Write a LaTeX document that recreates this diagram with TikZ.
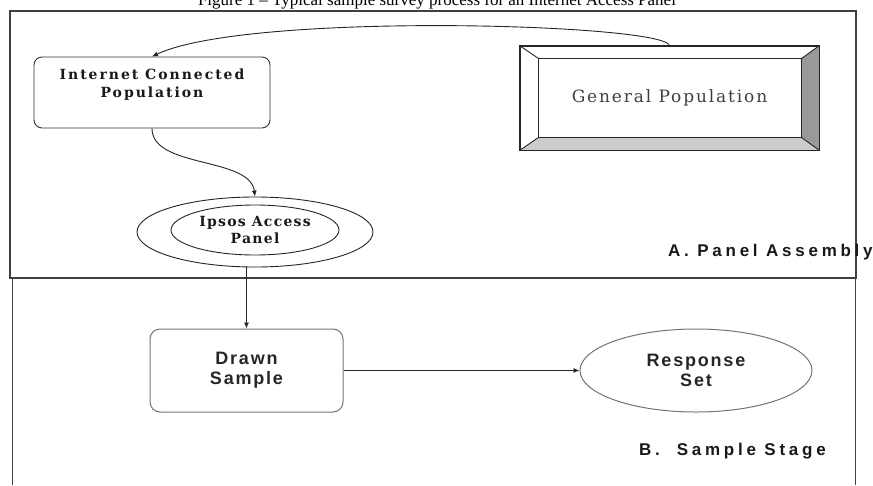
\documentclass[tikz,border=0pt]{standalone}
\usepackage{fontspec}
\setmainfont{Liberation Serif}
\newfontfamily\serifbox{DejaVu Serif}[LetterSpace=14]
\newfontfamily\serifring{DejaVu Serif}[LetterSpace=9]
\newfontfamily\serifgen{DejaVu Serif}[LetterSpace=11]
\newfontfamily\sansbox{Liberation Sans}[LetterSpace=10]
\newfontfamily\sansstage{Liberation Sans}[LetterSpace=22]
\usetikzlibrary{shapes.geometric,arrows.meta,calc}

\begin{document}
\begin{tikzpicture}[x=1pt,y=-1pt,>={Latex[length=6pt,width=5pt]},
    frame/.style={draw=black!75,line width=1.2pt},
    netbox/.style={draw=black!80,line width=0.9pt,rounded corners=8pt,minimum width=236pt,minimum height=71pt,inner sep=0pt,align=center,text=black!90,font=\fontsize{14}{18}\serifbox\bfseries},
    genbox/.style={draw=black!85,line width=0.9pt,minimum width=299pt,minimum height=104pt,inner sep=0pt,text=black!75,font=\fontsize{17}{19}\serifgen},
    panelring/.style={draw=black!85,line width=0.9pt,ellipse,minimum width=236pt,minimum height=70pt,inner sep=0pt},
    panelcore/.style={draw=black!85,line width=0.9pt,ellipse,minimum width=168pt,minimum height=50pt,inner sep=0pt,align=center,text=black!90,font=\fontsize{14}{17}\serifring\bfseries},
    drawbox/.style={draw=black!55,line width=1pt,rounded corners=10pt,minimum width=193pt,minimum height=83pt,inner sep=0pt,align=center,text=black!85,font=\fontsize{18}{20}\sansbox\bfseries},
    respell/.style={draw=black!55,line width=1pt,ellipse,minimum width=232pt,minimum height=83pt,inner sep=0pt,align=center,text=black!85,font=\fontsize{18}{20}\sansbox\bfseries},
    stage/.style={anchor=west,inner sep=0pt,text=black!90,font=\fontsize{17}{18}\sansstage\bfseries},
    link/.style={draw=black!85,line width=0.9pt,->}]
  \useasboundingbox (0,0) rectangle (873,485);
  % title, cut off at the top
  \node[anchor=base,font=\fontsize{17}{20}\selectfont] (title) at (437,5) {Figure 1 -- Typical sample survey process for an Internet Access Panel};
  % frames
  \draw[frame] (10,11) rectangle (856,278);
  \draw[frame] (12.5,485) -- (12.5,278) -- (855.5,278) -- (855.5,485);
  % A. panel assembly
  \node[netbox] (net) at (152,92.5) {Internet Connected\\Population\\~};
  \node[genbox] (gen) at (669.5,98) {General Population};
  \fill[black!40] (gen.north east) -- (gen.south east) -- ++(-18,-13) -- ($(gen.north east)+(-18,13)$) -- cycle;
  \fill[black!20] (gen.south west) -- (gen.south east) -- ++(-18,-13) -- ($(gen.south west)+(19,-13)$) -- cycle;
  \draw[black!85,line width=0.9pt] ($(gen.north west)+(19,13)$) rectangle ($(gen.south east)+(-18,-13)$);
  \draw[black!85,line width=0.9pt] (gen.north west) -- ++(19,13) (gen.north east) -- ++(-18,13)
    (gen.south west) -- ++(19,-13) (gen.south east) -- ++(-18,-13);
  \draw[black!85,line width=0.9pt] (gen.north west) rectangle (gen.south east);
  \node[panelring] (ring) at (255,232) {};
  \node[panelcore] (panel) at (255,230) {Ipsos Access\\Panel};
  \node[stage] (stageA) at (668,252) {A.\ Panel Assembly};
  % B. sample stage
  \node[drawbox] (drawn) at (246.5,370.5) {Drawn\\Sample};
  \node[respell] (resp) at (696,370.5) {Response\\Set};
  \node[stage] (stageB) at (639,451) {B.\ \ Sample Stage};
  % connectors
  \draw[link] (gen.north) .. controls +(-5,-22) and +(95,-45) .. (net.north);
  \draw[link] (net.south) .. controls +(0,40) and +(-5,-40) .. (ring.north);
  \draw[link] (ring.south -| drawn.north) -- (drawn.north);
  \draw[link] (drawn.east) -- (resp.west);
\end{tikzpicture}
\end{document}
